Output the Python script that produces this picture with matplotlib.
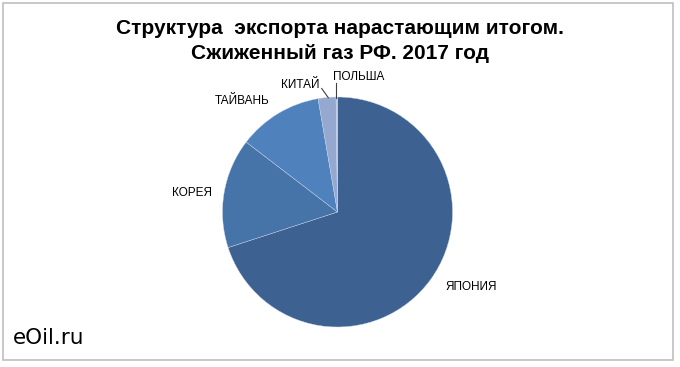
import matplotlib
matplotlib.use("Agg")
import matplotlib.pyplot as plt
from matplotlib.patches import Rectangle

countries = ["ЯПОНИЯ", "КОРЕЯ", "ТАЙВАНЬ", "КИТАЙ", "ПОЛЬША"]
shares = [70.0, 15.4, 11.9, 2.5, 0.2]
colors = ["#3D6190", "#4673A8", "#4F81BD", "#94A8D0", "#B8C4DC"]
title = "Структура  экспорта нарастающим итогом.\nСжиженный газ РФ. 2017 год"
watermark = "eOil.ru"

W, H = 680, 367
fig = plt.figure(figsize=(W / 100, H / 100), dpi=100)
fig.patch.set_facecolor("white")

# border
fig.add_artist(Rectangle((2.5 / W, (H - 360) / H), (673 - 2.5) / W, (360 - 2.5) / H,
                         transform=fig.transFigure, fill=False, edgecolor="#BFBFBF", linewidth=1.2))

cx, cy, r = 337.5, 212.0, 115.0
ax = fig.add_axes([(cx - r) / W, (H - cy - r) / H, 2 * r / W, 2 * r / H])

ax.pie(shares, colors=colors, startangle=90, counterclock=False, radius=1,
       wedgeprops=dict(edgecolor="#C8D4E8", linewidth=0.3))
ax.set_aspect("auto")
ax.set_xlim(-1, 1)
ax.set_ylim(-1, 1)
ax.axis("off")

def d(px, py):
    return ((px - cx) / r, (cy - py) / r)

label_px = [(471, 287), (192, 193), (242.5, 101), (300, 84.5), (359, 77.5)]
for name, (px, py) in zip(countries, label_px):
    x, y = d(px, py)
    ax.text(x, y, name, ha="center", va="center", fontsize=8.5,
            family="Liberation Sans", color="black", clip_on=False)

# leader lines
for (x0, y0), (x1, y1) in [((321.7, 88.5), (328.3, 97.7)), ((335.7, 82.7), (335.7, 97.5))]:
    a, b = d(x0, y0)
    c, e = d(x1, y1)
    ax.plot([a, c], [b, e], color="#404040", linewidth=0.8, clip_on=False)

fig.text(340 / W, 1 - 41 / H, title, ha="center", va="center", fontsize=15,
         fontweight="bold", family="Liberation Sans", linespacing=1.38)
fig.text(13 / W, 1 - 337.5 / H, watermark, ha="left", va="center", fontsize=15.5,
         family="DejaVu Sans")

fig.savefig("out.png", dpi=100)
